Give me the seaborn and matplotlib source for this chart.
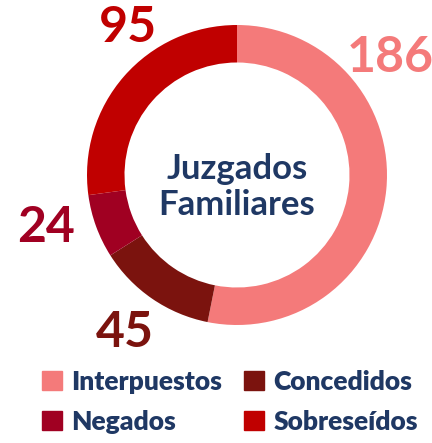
import matplotlib.pyplot as plt
import matplotlib.patches as mpatches
import seaborn as sns

categories = ["Interpuestos", "Concedidos", "Negados", "Sobreseídos"]
values = [186, 45, 24, 95]
colors = ["#F47A7A", "#7B130E", "#A00022", "#C00000"]
center_title = "Juzgados\nFamiliares"

sns.set_theme(style="white")
plt.rcParams['font.family'] = ['Lato', 'DejaVu Sans']

W, H = 432, 443
fig = plt.figure(figsize=(W / 100, H / 100), dpi=100)
cx, cy, r = 237, 175, 150
ax = fig.add_axes([(cx - r) / W, 1 - (cy + r) / H, 2 * r / W, 2 * r / H])

ax.pie(values, colors=colors, startangle=90, counterclock=False, radius=1,
       wedgeprops=dict(width=0.25, edgecolor="none"))
ax.set_xlim(-1, 1)
ax.set_ylim(-1, 1)
ax.set_aspect("equal")
ax.axis("off")

# value labels (positions in pie units)
label_pos = [(1.02, 0.78), (-0.75, -1.05), (-1.27, -0.35), (-0.73, 0.98)]
for v, c, (x, y) in zip(values, colors, label_pos):
    ax.text(x, y, str(v), color=c, fontsize=36, fontweight="bold",
            ha="center", va="center", clip_on=False)

ax.text(0, -0.08, center_title, color="#1F3864", fontsize=25, fontweight="bold",
        ha="center", va="center", linespacing=1.15)

# legend: row-wise order Interpuestos, Concedidos / Negados, Sobreseídos
order = [0, 2, 1, 3]
handles = [mpatches.Patch(color=colors[i]) for i in order]
labels = [categories[i] for i in order]
fig.legend(handles, labels, ncol=2, loc="upper left",
           bbox_to_anchor=(18 / W, 1 - 346 / H), frameon=False,
           prop={"family": ["Lato", "DejaVu Sans"], "weight": "heavy", "size": 19},
           labelcolor="#1F3864", handlelength=0.75, handleheight=0.75,
           handletextpad=0.35, columnspacing=0.85, labelspacing=0.6)

fig.savefig("out.png", dpi=100)
